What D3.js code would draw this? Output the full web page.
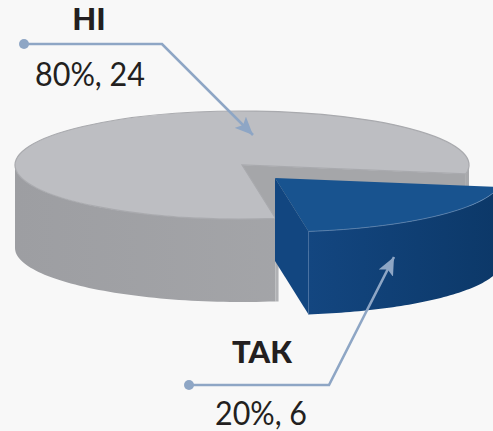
<!DOCTYPE html>
<html>
<head>
<meta charset="utf-8">
<script src="https://cdnjs.cloudflare.com/ajax/libs/d3/7.8.5/d3.min.js"></script>
<style>
	html, body { margin: 0; padding: 0; background: #f8f8f8; overflow: hidden; }
	svg { display: block; }
	text { font-family: Lato, "Open Sans", sans-serif; fill: #231f20; text-anchor: middle; }
	.name { font-size: 31px; font-weight: 900; }
	.value { font-size: 33px; }
</style>
</head>
<body>
<svg id="chart"></svg>
<script>
var categories = ["ТАК", "НІ"];
var percents = [20, 80];
var counts = [6, 24];
var colors = ["#18538f", "#bdbec2"];

var width = 493;
var height = 431;
var cx = 242, cy = 165, rx = 227, ry = 54, depth = 83;
var firstAngle = 99.5 * Math.PI / 180;

var svg = d3.select("#chart").attr("width", width).attr("height", height);
var defs = svg.append("defs");

function wallGradient(id, from, to) {
	var g = defs.append("linearGradient").attr("id", id);
	g.append("stop").attr("offset", "0%").attr("stop-color", from);
	g.append("stop").attr("offset", "100%").attr("stop-color", to);
}
wallGradient("greyWall", "#9d9ea2", "#a8a9ac");
wallGradient("blueWall", "#134680", "#0c3868");

defs.append("marker")
	.attr("id", "head")
	.attr("viewBox", "0 -8 18 16")
	.attr("refX", 18)
	.attr("refY", 0)
	.attr("markerUnits", "userSpaceOnUse")
	.attr("markerWidth", 18)
	.attr("markerHeight", 16)
	.attr("orient", "auto")
  .append("path")
	.attr("d", "M0,-8L18,0L0,8L4,0Z")
	.attr("fill", "#8ea6c5");

var slices = d3.pie().sort(null).startAngle(firstAngle).endAngle(firstAngle + 2 * Math.PI)(percents);

var arc = d3.arc().innerRadius(0).outerRadius(rx);

function rimX(a) { return rx * Math.sin(a); }
function rimY(a) { return -ry * Math.cos(a); }

// outer wall of a slice, only the part that faces the viewer
function wall(d) {
	var ranges = [];
	[[Math.PI / 2, Math.PI * 1.5], [Math.PI * 2.5, Math.PI * 3.5]].forEach(function(r) {
		var a0 = Math.max(d.startAngle, r[0]), a1 = Math.min(d.endAngle, r[1]);
		if (a1 > a0) ranges.push([a0, a1]);
	});
	return ranges.map(function(r) {
		var angles = d3.range(0, 61).map(function(i) { return r[0] + (r[1] - r[0]) * i / 60; });
		var top = angles.map(function(a) { return [rimX(a), rimY(a)]; });
		var bottom = angles.slice().reverse().map(function(a) { return [rimX(a), rimY(a) + depth]; });
		return d3.line()(top.concat(bottom)) + "Z";
	}).join("");
}

// flat cut face from the centre to a point on the rim
function cut(a) {
	return d3.line()([[0, 0], [rimX(a), rimY(a)], [rimX(a), rimY(a) + depth], [0, depth]]) + "Z";
}

var tak = slices[0], ni = slices[1];

// grey slice
var greyG = svg.append("g").attr("transform", "translate(" + cx + "," + cy + ")");

greyG.append("path")
	.attr("d", cut(ni.endAngle))
	.attr("fill", "#a5a6a9");
greyG.append("path")
	.attr("d", wall(ni))
	.attr("fill", "url(#greyWall)");
// small light strip where the front wall stops
greyG.append("path")
	.attr("d", d3.line()([[rimX(ni.startAngle), rimY(ni.startAngle)], [rimX(ni.startAngle) + 3, rimY(ni.startAngle) + 1], [rimX(ni.startAngle) + 3, rimY(ni.startAngle) + depth], [rimX(ni.startAngle), rimY(ni.startAngle) + depth]]) + "Z")
	.attr("fill", "#b0b1b4");
greyG.append("g")
	.attr("transform", "scale(1," + (ry / rx) + ")")
  .append("path")
	.attr("d", arc(ni))
	.attr("fill", colors[1])
	.attr("stroke", "#a9aaae")
	.attr("stroke-width", 1.2)
	.attr("vector-effect", "non-scaling-stroke");

// blue slice pulled out of the pie
var blueG = svg.append("g").attr("transform", "translate(" + (cx + 33) + "," + (cy + 13) + ")");

blueG.append("path")
	.attr("d", cut(tak.endAngle))
	.attr("fill", "#124680");
blueG.append("path")
	.attr("d", wall(tak))
	.attr("fill", "url(#blueWall)");
blueG.append("g")
	.attr("transform", "scale(1," + (ry / rx) + ")")
  .append("path")
	.attr("d", arc(tak))
	.attr("fill", colors[0]);
blueG.append("path")
	.attr("d", d3.line()(d3.range(0, 41).map(function(i) {
		var a = tak.startAngle + (tak.endAngle - tak.startAngle) * i / 40;
		return [rimX(a), rimY(a)];
	})))
	.attr("fill", "none")
	.attr("stroke", "#5f86b3")
	.attr("stroke-width", 0.8);
blueG.append("line")
	.attr("x1", rimX(tak.endAngle)).attr("y1", rimY(tak.endAngle))
	.attr("x2", rimX(tak.endAngle)).attr("y2", rimY(tak.endAngle) + depth)
	.attr("stroke", "#4a74a5")
	.attr("stroke-width", 0.8);

// leader lines
var leaders = [
	[[24, 44], [162, 44], [253, 135]],
	[[189, 385], [329, 385], [394, 257]]
];

svg.selectAll(".leader")
	.data(leaders)
	.enter().append("path")
	.attr("class", "leader")
	.attr("d", d3.line())
	.attr("fill", "none")
	.attr("stroke", "#8ea6c5")
	.attr("stroke-width", 2.6)
	.attr("marker-end", "url(#head)");

svg.selectAll(".dot")
	.data(leaders)
	.enter().append("circle")
	.attr("class", "dot")
	.attr("cx", function(d) { return d[0][0]; })
	.attr("cy", function(d) { return d[0][1]; })
	.attr("r", 5)
	.attr("fill", "#8ea6c5");

// labels, ТАК first like the data
var labelPos = [
	{ name: [262, 363], value: [261, 425], w: 92 },
	{ name: [89, 30], value: [90, 86], w: 110 }
];

categories.forEach(function(c, i) {
	svg.append("text").attr("class", "name")
		.attr("x", labelPos[i].name[0]).attr("y", labelPos[i].name[1])
		.text(c);
	svg.append("text").attr("class", "value")
		.attr("x", labelPos[i].value[0]).attr("y", labelPos[i].value[1])
		.attr("textLength", labelPos[i].w)
		.attr("lengthAdjust", "spacingAndGlyphs")
		.text(percents[i] + "%, " + counts[i]);
});
</script>
</body>
</html>
